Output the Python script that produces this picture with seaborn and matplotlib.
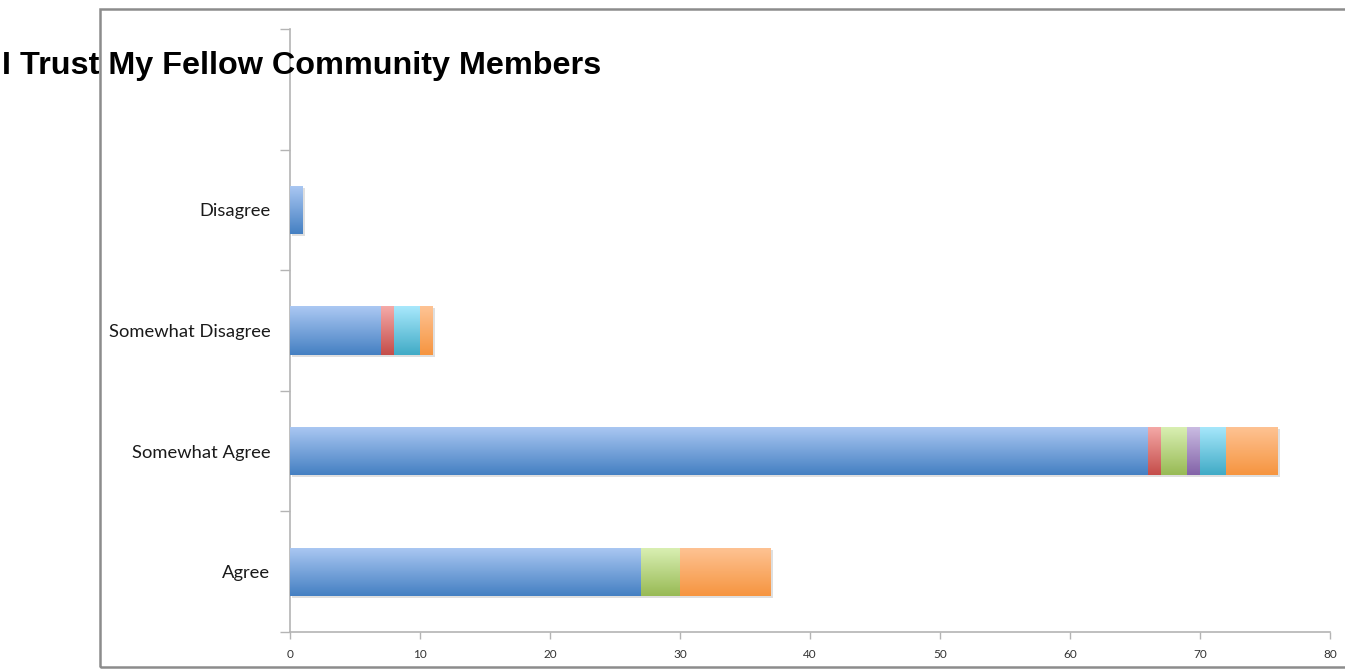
import matplotlib
matplotlib.use("Agg")
import matplotlib.pyplot as plt
import matplotlib.patches as mpatches
import matplotlib.patheffects as pe
from matplotlib.colors import LinearSegmentedColormap
import numpy as np
import pandas as pd
import seaborn as sns

# Survey responses, one segment per respondent group
categories = ["Disagree", "Somewhat Disagree", "Somewhat Agree", "Agree"]
slot_order = [""] + categories  # empty top slot keeps the spacing of the axis
group_blue = [1, 7, 66, 27]
group_red = [0, 1, 1, 0]
group_green = [0, 0, 2, 3]
group_purple = [0, 0, 1, 0]
group_cyan = [0, 2, 2, 0]
group_orange = [0, 1, 4, 7]
x_ticks = [0, 10, 20, 30, 40, 50, 60, 70, 80]
title = "I Trust My Fellow Community Members"

series = [group_blue, group_red, group_green, group_purple, group_cyan, group_orange]
# (top, bottom) shades of each segment's vertical gradient
shades = [
    ("#abc8f3", "#4580c2"),
    ("#f5aaa8", "#c44d4a"),
    ("#daf0b4", "#98ba55"),
    ("#cbbde3", "#8363a8"),
    ("#a8e8fc", "#41abc6"),
    ("#fec394", "#f69540"),
]

sns.set_theme(style="white")
plt.rcParams["font.family"] = ["Lato", "DejaVu Sans"]

fig = plt.figure(figsize=(13.45, 6.69), dpi=100)
W, H = 1345, 669
ax = fig.add_axes([290 / W, 1 - 632 / H, (1330 - 290) / W, (632 - 29) / H])

cumulative = np.cumsum(np.array(series), axis=0)
bar_height = 0.4

# Draw the stacked totals back to front so each shorter segment sits on top
for layer in range(len(series) - 1, -1, -1):
    df = pd.DataFrame({"category": categories, "value": cumulative[layer]})
    n_before = len(ax.patches)
    sns.barplot(data=df, x="value", y="category", order=slot_order,
                orient="h", color=shades[layer][1], width=bar_height,
                linewidth=0, saturation=1, ax=ax, errorbar=None)
    new_patches = ax.patches[n_before:]
    z = 2 + 2 * (len(series) - 1 - layer)
    top_c, bot_c = shades[layer]
    cmap = LinearSegmentedColormap.from_list("g%d" % layer, [top_c, bot_c])
    grad = np.linspace(0, 1, 64).reshape(-1, 1)
    for p in new_patches:
        w = p.get_width()
        if not np.isfinite(w) or w <= 0:
            continue
        p.set_zorder(z)
        if layer == len(series) - 1:
            p.set_path_effects([pe.SimplePatchShadow(offset=(1.5, -1.5), alpha=0.25,
                                                     shadow_rgbFace="#808080"),
                                pe.Normal()])
        x0, y0 = p.get_x(), p.get_y()
        h = p.get_height()
        im = ax.imshow(grad, cmap=cmap, aspect="auto", origin="upper",
                       extent=(x0, x0 + w, y0 + h, y0), zorder=z + 1,
                       interpolation="bicubic")
        im.set_clip_path(p)

ax.set_xlim(0, 80)
ax.set_ylim(len(slot_order) - 0.5, -0.5)
ax.set_xticks(x_ticks)
ax.set_xticklabels([str(t) for t in x_ticks])
ax.set_xlabel("")
ax.set_ylabel("")

# Category ticks sit on the slot boundaries
ax.set_yticks(np.arange(-0.5, len(slot_order), 1.0), minor=True)
ax.tick_params(axis="y", which="major", length=0, pad=14, labelsize=13.2,
               labelcolor="#1a1a1a")
ax.tick_params(axis="y", which="minor", left=True, length=7, width=1,
               color="#b4b4b4")
ax.tick_params(axis="x", which="major", bottom=True, length=5, width=1,
               color="#b4b4b4", labelsize=8.5, labelcolor="#333333", pad=7)

for side in ("top", "right"):
    ax.spines[side].set_visible(False)
for side in ("left", "bottom"):
    ax.spines[side].set_color("#b4b4b4")
    ax.spines[side].set_linewidth(1.2)
ax.set_facecolor("white")

# Chart border
fig.add_artist(mpatches.Rectangle((100 / W, 1 - 667 / H), 1.2, (667 - 9) / H,
                                  transform=fig.transFigure, fill=False,
                                  edgecolor="#8c8c8c", linewidth=1.8))

fig.text(2 / W, 1 - 66 / H, title, family="Liberation Sans", weight="bold",
         fontsize=23.3, color="black", va="center", ha="left", zorder=10)

fig.savefig("out.png", dpi=100, facecolor="white")
